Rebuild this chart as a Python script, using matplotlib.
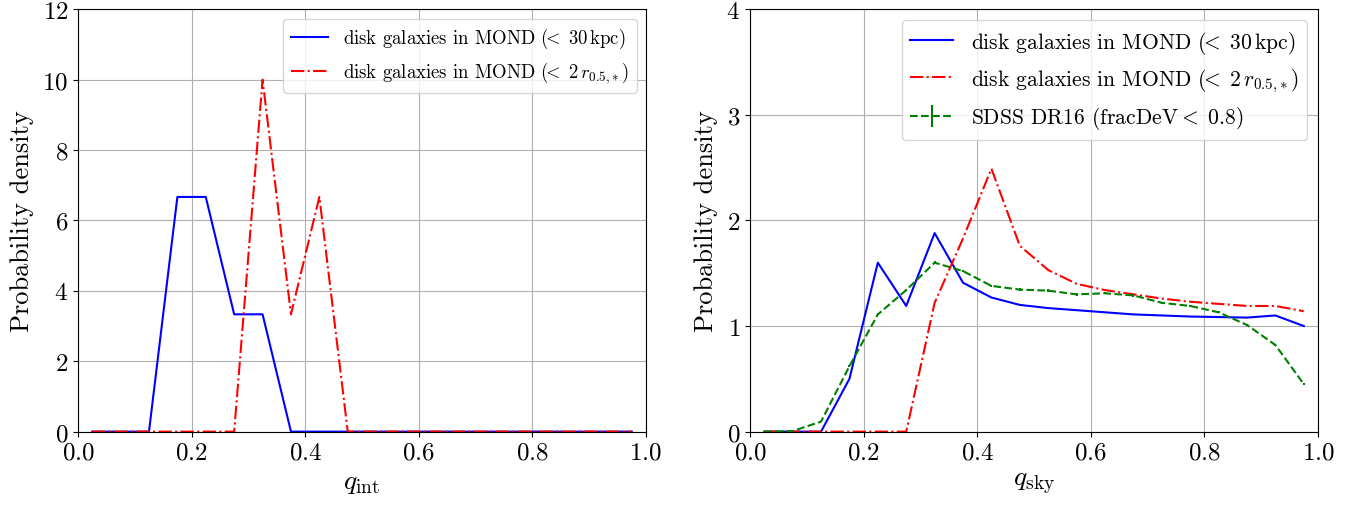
import numpy as np
import matplotlib.pyplot as plt

plt.rcParams['font.family'] = 'serif'
plt.rcParams['font.serif'] = ['cmr10']
plt.rcParams['mathtext.fontset'] = 'cm'
plt.rcParams['axes.formatter.use_mathtext'] = True
plt.rcParams['axes.unicode_minus'] = False

# bin centres (width 0.05)
q_bins = [0.025, 0.075, 0.125, 0.175, 0.225, 0.275, 0.325, 0.375, 0.425, 0.475,
          0.525, 0.575, 0.625, 0.675, 0.725, 0.775, 0.825, 0.875, 0.925, 0.975]

# left panel: intrinsic axis ratio
qint_30kpc = [0, 0, 0, 6.667, 6.667, 3.333, 3.333, 0, 0, 0,
              0, 0, 0, 0, 0, 0, 0, 0, 0, 0]
qint_2r = [0, 0, 0, 0, 0, 0, 10.0, 3.333, 6.667, 0,
           0, 0, 0, 0, 0, 0, 0, 0, 0, 0]

# right panel: sky-projected axis ratio
qsky_30kpc = [0, 0, 0, 0.50, 1.60, 1.19, 1.88, 1.41, 1.27, 1.20,
              1.17, 1.15, 1.13, 1.11, 1.10, 1.09, 1.085, 1.08, 1.10, 1.00]
qsky_2r = [0, 0, 0, 0, 0, 0, 1.22, 1.83, 2.49, 1.76,
           1.53, 1.40, 1.34, 1.30, 1.26, 1.23, 1.21, 1.19, 1.19, 1.14]
qsky_sdss = [0, 0.005, 0.095, 0.62, 1.11, 1.34, 1.60, 1.52, 1.38, 1.345,
             1.335, 1.30, 1.31, 1.29, 1.22, 1.19, 1.13, 1.01, 0.82, 0.45]
qsky_sdss_err = [0.0, 0.001, 0.003, 0.008, 0.01, 0.012, 0.013, 0.012, 0.012, 0.012,
                 0.012, 0.011, 0.011, 0.011, 0.011, 0.011, 0.01, 0.01, 0.009, 0.007]

lab_30 = r'disk galaxies in MOND $(\!\!<\;30\,{\rm kpc})$'
lab_2r = r'disk galaxies in MOND $(\!\!<\;2\,r_{0.5{,}*})$'
lab_sdss = r'SDSS DR16 (fracDeV $\!\!<\;0.8$)'

fig = plt.figure(figsize=(13.61, 5.06), dpi=100)
ax1 = fig.add_axes([0.0573, 0.145, 0.4173, 0.8348])
ax2 = fig.add_axes([0.5511, 0.145, 0.4173, 0.8348])

ax1.plot(q_bins, qint_30kpc, 'b-', label=lab_30)
ax1.plot(q_bins, qint_2r, 'r-.', label=lab_2r)
ax1.set_xlim(0, 1)
ax1.set_ylim(0, 12)
ax1.set_xlabel(r'$q_{\rm int}$', fontsize=20)
ax1.set_ylabel('Probability density', fontsize=19, labelpad=6)
ax1.grid(True)
ax1.legend(loc='upper right', fontsize=13.5)

ax2.plot(q_bins, qsky_30kpc, 'b-', label=lab_30)
ax2.plot(q_bins, qsky_2r, 'r-.', label=lab_2r)
ax2.errorbar(q_bins, qsky_sdss, yerr=qsky_sdss_err, fmt='g--', label=lab_sdss)
ax2.set_xlim(0, 1)
ax2.set_ylim(0, 4)
ax2.set_yticks([0, 1, 2, 3, 4])
ax2.set_xlabel(r'$q_{\rm sky}$', fontsize=20)
ax2.set_ylabel('Probability density', fontsize=19, labelpad=6)
ax2.grid(True)
ax2.legend(loc='upper right', fontsize=15.5)

for ax in (ax1, ax2):
    ax.tick_params(labelsize=18)

fig.savefig('out.png', dpi=100)
